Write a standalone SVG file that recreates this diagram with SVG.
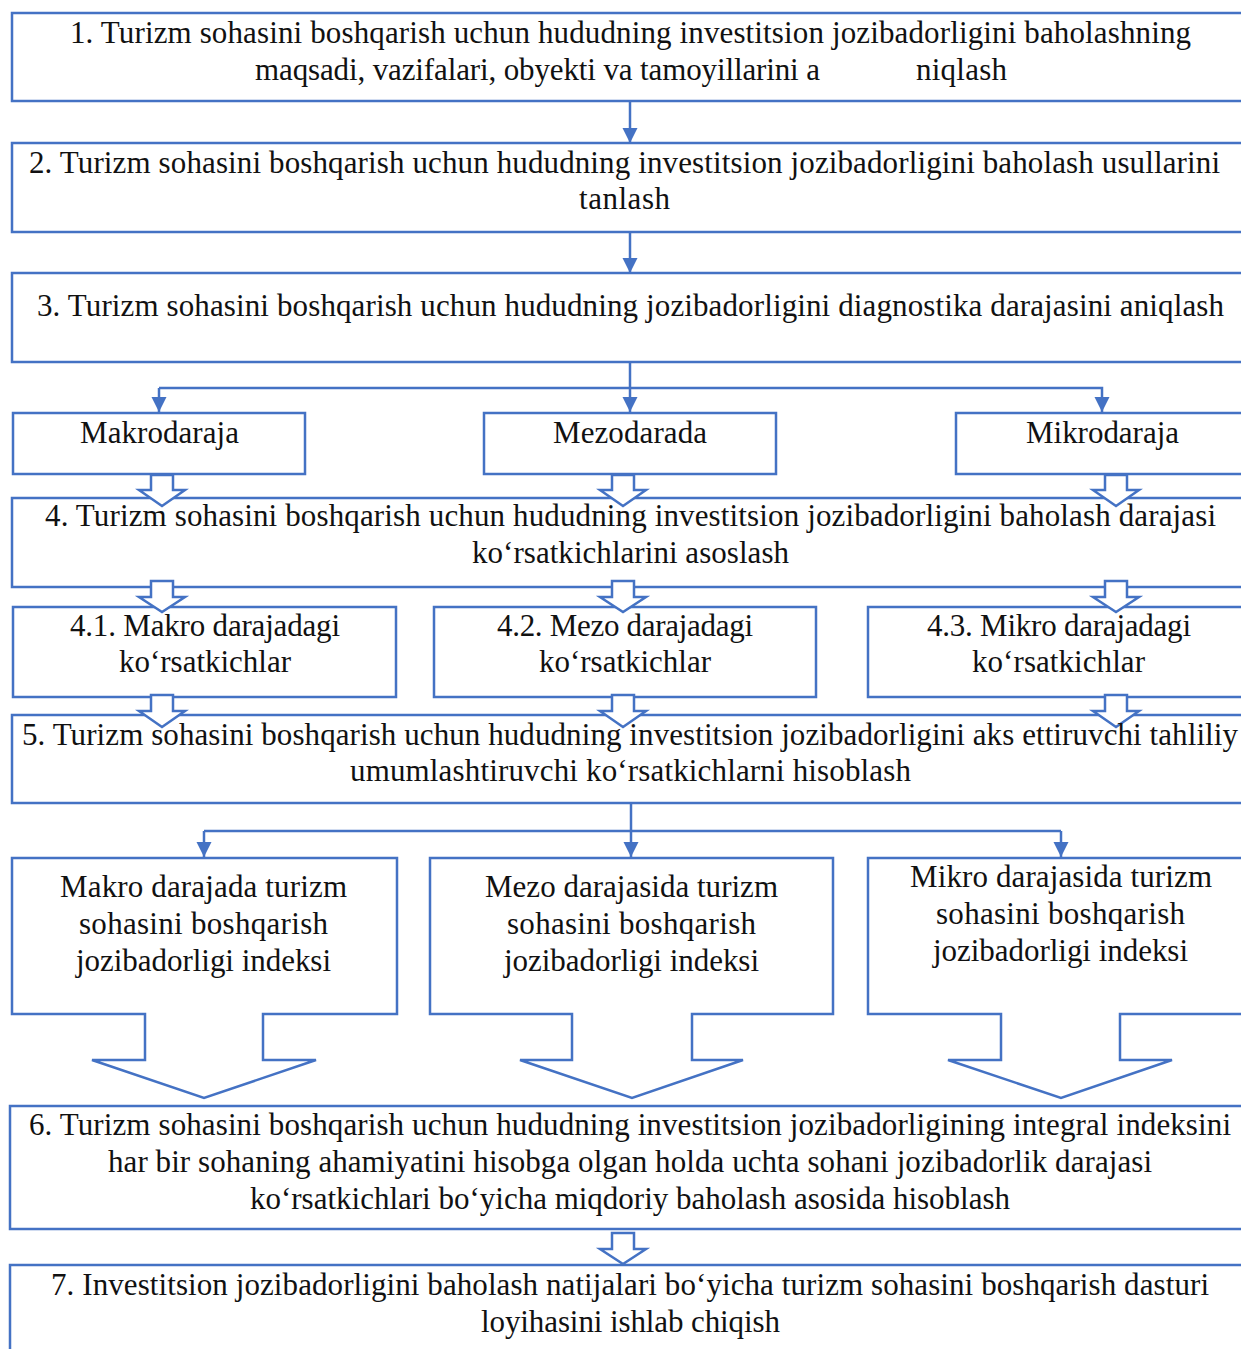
<svg xmlns="http://www.w3.org/2000/svg" width="1241" height="1349" viewBox="0 0 1241 1349">
<style>
.box{fill:#fff;stroke:#4472C4;stroke-width:2.5}
.blk{fill:#fff;stroke:#4472C4;stroke-width:2.5;stroke-linejoin:miter}
.ln{fill:none;stroke:#4472C4;stroke-width:2.5}
text{font-family:"Liberation Serif","Times New Roman",serif;font-size:31px;fill:#111}
</style>
<defs>
<marker id="ah" markerUnits="userSpaceOnUse" markerWidth="16" markerHeight="16" refX="15" refY="7.5" orient="auto">
<path d="M0,0 L15,7.5 L0,15 z" fill="#4472C4"/>
</marker>
</defs>
<rect width="1241" height="1349" fill="#fff"/>

<g id="n1"><rect class="box" x="12" y="13" width="1240" height="88"/></g>
<g id="n2"><rect class="box" x="12" y="143" width="1240" height="89"/></g>
<g id="n3"><rect class="box" x="12" y="273" width="1240" height="89"/></g>
<g id="n-makro"><rect class="box" x="13" y="413" width="292" height="61"/></g>
<g id="n-mezo"><rect class="box" x="484" y="413" width="292" height="61"/></g>
<g id="n-mikro"><rect class="box" x="956" y="413" width="296" height="61"/></g>
<g id="n4"><rect class="box" x="12" y="498" width="1240" height="89"/></g>
<g id="n41"><rect class="box" x="13" y="607" width="383" height="90"/></g>
<g id="n42"><rect class="box" x="434" y="607" width="382" height="90"/></g>
<g id="n43"><rect class="box" x="868" y="607" width="384" height="90"/></g>
<g id="n5"><rect class="box" x="12" y="715" width="1240" height="88"/></g>
<g id="n-makro-idx"><polygon class="blk" points="12,858 397,858 397,1014 263,1014 263,1060 316,1060 204,1098 92,1060 145,1060 145,1014 12,1014"/></g>
<g id="n-mezo-idx"><polygon class="blk" points="430,858 833,858 833,1014 692,1014 692,1060 743,1060 632,1098 520,1060 572,1060 572,1014 430,1014"/></g>
<g id="n-mikro-idx"><polygon class="blk" points="868,858 1252,858 1252,1014 1120,1014 1120,1060 1172,1060 1061,1098 948,1060 1001,1060 1001,1014 868,1014"/></g>
<g id="n6"><rect class="box" x="10" y="1106" width="1242" height="123"/></g>
<g id="n7"><rect class="box" x="10" y="1265" width="1242" height="100"/></g>

<g id="connectors">
<line class="ln" x1="630" y1="101" x2="630" y2="143" marker-end="url(#ah)"/>
<line class="ln" x1="630" y1="232" x2="630" y2="273" marker-end="url(#ah)"/>
<polyline class="ln" points="630,362 630,388"/>
<polyline class="ln" points="159,388 1102,388 1102,412" marker-end="url(#ah)"/>
<line class="ln" x1="159" y1="388" x2="159" y2="412" marker-end="url(#ah)"/>
<line class="ln" x1="630" y1="388" x2="630" y2="412" marker-end="url(#ah)"/>
<polyline class="ln" points="631,803 631,831"/>
<polyline class="ln" points="204,831 1061,831"/>
<line class="ln" x1="204" y1="831" x2="204" y2="857" marker-end="url(#ah)"/>
<line class="ln" x1="631" y1="831" x2="631" y2="857" marker-end="url(#ah)"/>
<line class="ln" x1="1061" y1="831" x2="1061" y2="857" marker-end="url(#ah)"/>
<polygon class="blk" points="151,475 173,475 173,490 185,490 162,506 139,490 151,490"/>
<polygon class="blk" points="612,475 634,475 634,490 646,490 623,506 600,490 612,490"/>
<polygon class="blk" points="1105,475 1127,475 1127,490 1139,490 1116,506 1093,490 1105,490"/>
<polygon class="blk" points="151,581 173,581 173,597 185,597 162,612 139,597 151,597"/>
<polygon class="blk" points="612,581 634,581 634,597 646,597 623,612 600,597 612,597"/>
<polygon class="blk" points="1105,581 1127,581 1127,597 1139,597 1116,612 1093,597 1105,597"/>
<polygon class="blk" points="151,695 173,695 173,711 185,711 162,727 139,711 151,711"/>
<polygon class="blk" points="612,695 634,695 634,711 646,711 623,727 600,711 612,711"/>
<polygon class="blk" points="1105,695 1127,695 1127,711 1139,711 1116,727 1093,711 1105,711"/>
<polygon class="blk" points="612,1233 634,1233 634,1249 646,1249 623,1264 600,1249 612,1249"/>
</g>

<g id="labels">
<text x="70" y="43" textLength="1121" lengthAdjust="spacing">1. Turizm sohasini boshqarish uchun hududning investitsion jozibadorligini baholashning</text>
<text x="255" y="80" textLength="565" lengthAdjust="spacing">maqsadi, vazifalari, obyekti va tamoyillarini a</text>
<text x="916" y="80" textLength="91" lengthAdjust="spacing">niqlash</text>
<text x="29" y="173" textLength="1191" lengthAdjust="spacing">2. Turizm sohasini boshqarish uchun hududning investitsion jozibadorligini baholash usullarini</text>
<text x="579" y="209" textLength="91" lengthAdjust="spacing">tanlash</text>
<text x="37" y="316" textLength="1187" lengthAdjust="spacing">3. Turizm sohasini boshqarish uchun hududning jozibadorligini diagnostika darajasini aniqlash</text>
<text x="80" y="443" textLength="159" lengthAdjust="spacing">Makrodaraja</text>
<text x="553" y="443" textLength="154" lengthAdjust="spacing">Mezodarada</text>
<text x="1026" y="443" textLength="153" lengthAdjust="spacing">Mikrodaraja</text>
<text x="45" y="526" textLength="1171" lengthAdjust="spacing">4. Turizm sohasini boshqarish uchun hududning investitsion jozibadorligini baholash darajasi</text>
<text x="472" y="563" textLength="317" lengthAdjust="spacing">ko‘rsatkichlarini asoslash</text>
<text x="70" y="636" textLength="270" lengthAdjust="spacing">4.1. Makro darajadagi</text>
<text x="119" y="672" textLength="172" lengthAdjust="spacing">ko‘rsatkichlar</text>
<text x="497" y="636" textLength="256" lengthAdjust="spacing">4.2. Mezo darajadagi</text>
<text x="539" y="672" textLength="172" lengthAdjust="spacing">ko‘rsatkichlar</text>
<text x="927" y="636" textLength="264" lengthAdjust="spacing">4.3. Mikro darajadagi</text>
<text x="972" y="672" textLength="173" lengthAdjust="spacing">ko‘rsatkichlar</text>
<text x="22" y="745" textLength="1216" lengthAdjust="spacing">5. Turizm sohasini boshqarish uchun hududning investitsion jozibadorligini aks ettiruvchi tahliliy</text>
<text x="350" y="781" textLength="561" lengthAdjust="spacing">umumlashtiruvchi ko‘rsatkichlarni hisoblash</text>
<text x="60" y="897" textLength="287" lengthAdjust="spacing">Makro darajada turizm</text>
<text x="79" y="934" textLength="249" lengthAdjust="spacing">sohasini boshqarish</text>
<text x="76" y="971" textLength="255" lengthAdjust="spacing">jozibadorligi indeksi</text>
<text x="485" y="897" textLength="293" lengthAdjust="spacing">Mezo darajasida turizm</text>
<text x="507" y="934" textLength="249" lengthAdjust="spacing">sohasini boshqarish</text>
<text x="504" y="971" textLength="255" lengthAdjust="spacing">jozibadorligi indeksi</text>
<text x="910" y="887" textLength="302" lengthAdjust="spacing">Mikro darajasida turizm</text>
<text x="936" y="924" textLength="249" lengthAdjust="spacing">sohasini boshqarish</text>
<text x="933" y="961" textLength="255" lengthAdjust="spacing">jozibadorligi indeksi</text>
<text x="29" y="1135" textLength="1202" lengthAdjust="spacing">6. Turizm sohasini boshqarish uchun hududning investitsion jozibadorligining integral indeksini</text>
<text x="108" y="1172" textLength="1044" lengthAdjust="spacing">har bir sohaning ahamiyatini hisobga olgan holda uchta sohani jozibadorlik darajasi</text>
<text x="250" y="1209" textLength="760" lengthAdjust="spacing">ko‘rsatkichlari bo‘yicha miqdoriy baholash asosida hisoblash</text>
<text x="51" y="1295" textLength="1158" lengthAdjust="spacing">7. Investitsion jozibadorligini baholash natijalari bo‘yicha turizm sohasini boshqarish dasturi</text>
<text x="481" y="1332" textLength="299" lengthAdjust="spacing">loyihasini ishlab chiqish</text>
</g>
</svg>
